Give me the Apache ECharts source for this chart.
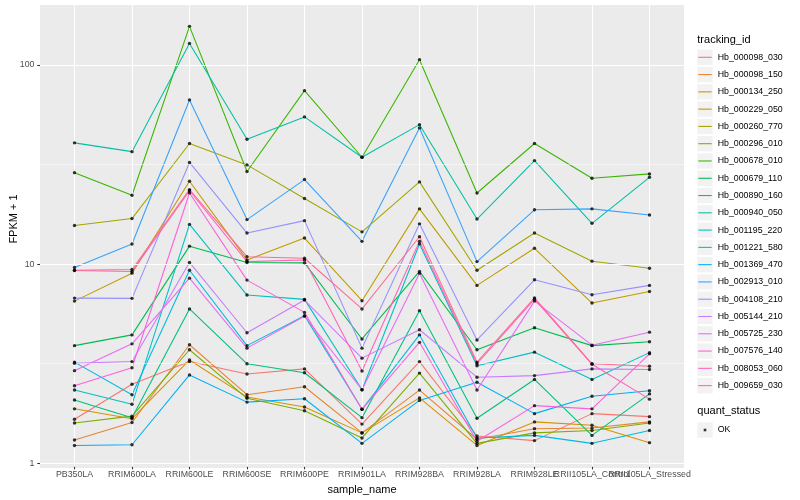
<!DOCTYPE html>
<html>
<head>
<meta charset="utf-8">
<script src="https://cdn.jsdelivr.net/npm/echarts@6/dist/echarts.min.js"></script>
<style>html,body{margin:0;padding:0;background:#fff}#c{width:800px;height:500px}</style>
</head>
<body>
<div id="c"></div>
<script>
const categories = ['PB350LA','RRIM600LA','RRIM600LE','RRIM600SE','RRIM600PE','RRIM901LA','RRIM928BA','RRIM928LA','RRIM928LE','RRII105LA_Control','RRII105LA_Stressed'];
const yTicks = [1, 10, 100];
const yMinorTicks = [3.1623, 31.623];
const yRange = [0.947, 199.8];
const trackingIds = ['Hb_000098_030','Hb_000098_150','Hb_000134_250','Hb_000229_050','Hb_000260_770','Hb_000296_010','Hb_000678_010','Hb_000679_110','Hb_000890_160','Hb_000940_050','Hb_001195_220','Hb_001221_580','Hb_001369_470','Hb_002913_010','Hb_004108_210','Hb_005144_210','Hb_005725_230','Hb_007576_140','Hb_008053_060','Hb_009659_030'];
const palette = ['#F8766D','#EA8331','#D89000','#C09B00','#A3A500','#7CAE00','#39B600','#00BB4E','#00BF7D','#00C1A3','#00BFC4','#00BAE0','#00B0F6','#35A2FF','#9590FF','#C77CFF','#E76BF3','#FA62DB','#FF62BC','#FF6C91'];

const v_000098_030 = [1.64, 2.46, 3.2, 2.77, 2.94, 1.55, 3.2, 1.35, 1.28, 1.75, 1.69];
const v_000098_150 = [1.29, 1.58, 3.89, 2.18, 2.39, 1.40, 2.30, 1.30, 1.47, 1.48, 1.59];
const v_000134_250 = [1.85, 1.65, 3.26, 2.12, 1.89, 1.40, 2.10, 1.21, 1.59, 1.53, 1.25];
const v_000229_050 = [6.45, 8.92, 25.9, 10.4, 13.4, 6.48, 18.8, 7.74, 11.9, 6.31, 7.21];
const v_000260_770 = [15.5, 16.8, 40.1, 31.3, 21.2, 14.4, 25.7, 9.23, 14.2, 10.25, 9.45];
const v_000296_010 = [1.57, 1.70, 3.67, 2.09, 1.81, 1.32, 2.80, 1.24, 1.40, 1.44, 1.57];
const v_000678_010 = [28.6, 22.0, 156, 29.0, 74, 34.2, 106, 22.6, 40.1, 26.8, 28.2];
const v_000679_110 = [3.85, 4.36, 12.2, 10.1, 10.05, 4.16, 9.1, 3.67, 4.74, 3.85, 4.03];
const v_000890_160 = [2.05, 1.67, 5.89, 3.12, 2.81, 1.67, 5.77, 1.66, 2.60, 1.36, 2.20];
const v_000940_050 = [40.4, 36.5, 128, 42.1, 54.6, 34.2, 49.9, 16.7, 32.9, 15.9, 27.1];
const v_001195_220 = [2.30, 1.95, 15.7, 6.92, 6.58, 2.31, 12.5, 3.05, 3.57, 2.60, 3.55];
const v_001221_580 = [3.18, 2.18, 9.23, 3.85, 5.45, 1.84, 4.36, 1.32, 1.36, 1.24, 1.44];
const v_001369_470 = [1.21, 1.22, 2.74, 2.0, 2.08, 1.24, 2.04, 2.52, 1.75, 2.14, 2.28];
const v_002913_010 = [9.53, 12.5, 66.4, 16.6, 26.4, 12.9, 48.0, 10.2, 18.6, 18.8, 17.5];
const v_004108_210 = [6.68, 6.66, 32.2, 14.2, 16.4, 3.74, 15.8, 4.11, 8.26, 6.94, 7.74];
const v_005144_210 = [3.14, 3.2, 10.1, 4.47, 6.53, 3.33, 4.63, 2.67, 2.72, 2.94, 2.92];
const v_005725_230 = [2.88, 3.93, 8.42, 3.74, 5.41, 2.31, 8.9, 2.30, 6.45, 3.87, 4.50];
const v_007576_140 = [2.42, 2.98, 22.6, 8.23, 5.66, 1.84, 4.0, 1.27, 1.92, 1.85, 3.50];
const v_008053_060 = [9.2, 9.1, 23.2, 10.2, 10.4, 2.87, 12.9, 3.12, 6.6, 3.10, 2.07];
const v_009659_030 = [9.23, 9.3, 23.5, 10.8, 10.6, 5.89, 13.6, 3.18, 6.7, 3.12, 3.03];

const seriesValues = [v_000098_030, v_000098_150, v_000134_250, v_000229_050, v_000260_770, v_000296_010, v_000678_010, v_000679_110, v_000890_160, v_000940_050, v_001195_220, v_001221_580, v_001369_470, v_002913_010, v_004108_210, v_005144_210, v_005725_230, v_007576_140, v_008053_060, v_009659_030];

const FONT = 'Liberation Sans, Arial, Helvetica, sans-serif';
const W = 800, H = 500;
const panel = {left: 40, right: 116, top: 5, bottom: 32};
const nCat = categories.length;
const expand = 0.6;
const unit = (W - panel.left - panel.right) / (nCat - 1 + 2 * expand);
const off = (expand - 0.5) * unit;

const legendLeft = 697.3, keyW = 15.4, keyH = 17.28, firstKeyCenter = 57.3;

const series = [];
series.push({
  type: 'line', xAxisIndex: 0, yAxisIndex: 0, data: [], z: 1, silent: true,
  markLine: {
    silent: true, symbol: ['none', 'none'], label: {show: false}, animation: false,
    lineStyle: {color: '#FFFFFF', type: 'solid', width: 1.07},
    emphasis: {disabled: true},
    data: categories.map(c => ({xAxis: c}))
  }
});
series.push({
  type: 'line', xAxisIndex: 1, yAxisIndex: 1, data: [], z: 1, silent: true,
  markLine: {
    silent: true, symbol: ['none', 'none'], label: {show: false}, animation: false,
    lineStyle: {color: '#FFFFFF', type: 'solid'},
    emphasis: {disabled: true},
    data: yTicks.map(v => ({yAxis: v, lineStyle: {width: 1.07}}))
      .concat(yMinorTicks.map(v => ({yAxis: v, lineStyle: {width: 0.53}})))
  }
});
trackingIds.forEach((id, i) => {
  series.push({
    type: 'line', name: id, xAxisIndex: 0, yAxisIndex: 0,
    data: seriesValues[i], showSymbol: false, symbol: 'none',
    itemStyle: {color: palette[i]},
    lineStyle: {color: palette[i], width: 1.07},
    z: 3, silent: true, animation: false
  });
});
trackingIds.forEach((id, i) => {
  series.push({
    type: 'scatter', name: 'OK', xAxisIndex: 0, yAxisIndex: 0,
    data: categories.map((c, j) => [c, seriesValues[i][j]]),
    symbol: 'circle', symbolSize: 3.4,
    itemStyle: {color: '#000000'},
    z: 5, silent: true, animation: false
  });
});

const graphics = [
  {type: 'text', left: legendLeft, top: 40.7 - 6.5, style: {text: 'tracking_id', font: '11px ' + FONT, fill: '#000000'}},
  {type: 'text', left: legendLeft, top: 412.3 - 6.5, style: {text: 'quant_status', font: '11px ' + FONT, fill: '#000000'}},
  {type: 'text', x: 14, y: 219, rotation: Math.PI / 2, style: {text: 'FPKM + 1', font: '11px ' + FONT, fill: '#000000', align: 'center', verticalAlign: 'middle'}}
];
trackingIds.forEach((id, i) => {
  const cy = firstKeyCenter + keyH * i;
  graphics.push({type: 'rect', shape: {x: legendLeft, y: cy - keyW / 2, width: keyW, height: keyW}, style: {fill: '#F2F2F2'}, z: 0, silent: true});
});
graphics.push({type: 'rect', shape: {x: legendLeft, y: 430 - keyW / 2, width: keyW, height: keyW}, style: {fill: '#F2F2F2'}, z: 0, silent: true});

const lineIcon = 'path://M0,0M' + keyW + ',' + keyH + 'M1,8.1L' + (keyW - 1) + ',8.1L' + (keyW - 1) + ',9.18L1,9.18Z';
const dotIcon = 'path://M0,0M' + keyW + ',' + keyH + 'M6.4,7.35L9,7.35L9,9.95L6.4,9.95Z';

const option = {
  animation: false,
  backgroundColor: '#FFFFFF',
  textStyle: {fontFamily: FONT},
  grid: [
    {left: panel.left + off, right: panel.right + off, top: panel.top, bottom: panel.bottom, containLabel: false, z: 2},
    {left: panel.left, right: panel.right, top: panel.top, bottom: panel.bottom, containLabel: false, show: true, backgroundColor: '#EBEBEB', borderWidth: 0, z: 0}
  ],
  xAxis: [
    {
      gridIndex: 0, type: 'category', data: categories, boundaryGap: true,
      axisLine: {show: false},
      axisTick: {show: true, alignWithLabel: true, length: 2.75, lineStyle: {color: '#333333', width: 1.07}},
      axisLabel: {show: true, interval: 0, color: '#4D4D4D', fontSize: 8.8, fontFamily: FONT, margin: 3.5, hideOverlap: false},
      splitLine: {show: false},
      name: 'sample_name', nameLocation: 'middle', nameGap: 16,
      nameTextStyle: {fontSize: 11, color: '#000000', fontFamily: FONT}
    },
    {gridIndex: 1, type: 'value', min: 0, max: 1, show: false}
  ],
  yAxis: [
    {gridIndex: 0, type: 'log', logBase: 10, min: yRange[0], max: yRange[1], show: false},
    {
      gridIndex: 1, type: 'log', logBase: 10, min: yRange[0], max: yRange[1],
      axisLine: {show: false},
      axisTick: {show: true, length: 2.75, customValues: yTicks, lineStyle: {color: '#333333', width: 1.07}},
      axisLabel: {show: true, customValues: yTicks, color: '#4D4D4D', fontSize: 8.8, fontFamily: FONT, margin: 5.5},
      splitLine: {show: false},
      minorSplitLine: {show: false}
    }
  ],
  legend: [
    {
      data: trackingIds, orient: 'vertical', left: legendLeft, top: firstKeyCenter - keyH / 2,
      itemWidth: keyW, itemHeight: keyH, itemGap: 0, padding: 0, icon: lineIcon,
      selectedMode: false, textStyle: {fontSize: 8.8, color: '#000000', fontFamily: FONT}
    },
    {
      data: ['OK'], orient: 'vertical', left: legendLeft, top: 430 - keyH / 2,
      itemWidth: keyW, itemHeight: keyH, itemGap: 0, padding: 0, icon: dotIcon,
      selectedMode: false, textStyle: {fontSize: 8.8, color: '#000000', fontFamily: FONT}
    }
  ],
  graphic: graphics,
  series: series
};

const chart = echarts.init(document.getElementById('c'), null, {renderer: 'canvas'});
chart.setOption(option);
</script>
</body>
</html>
